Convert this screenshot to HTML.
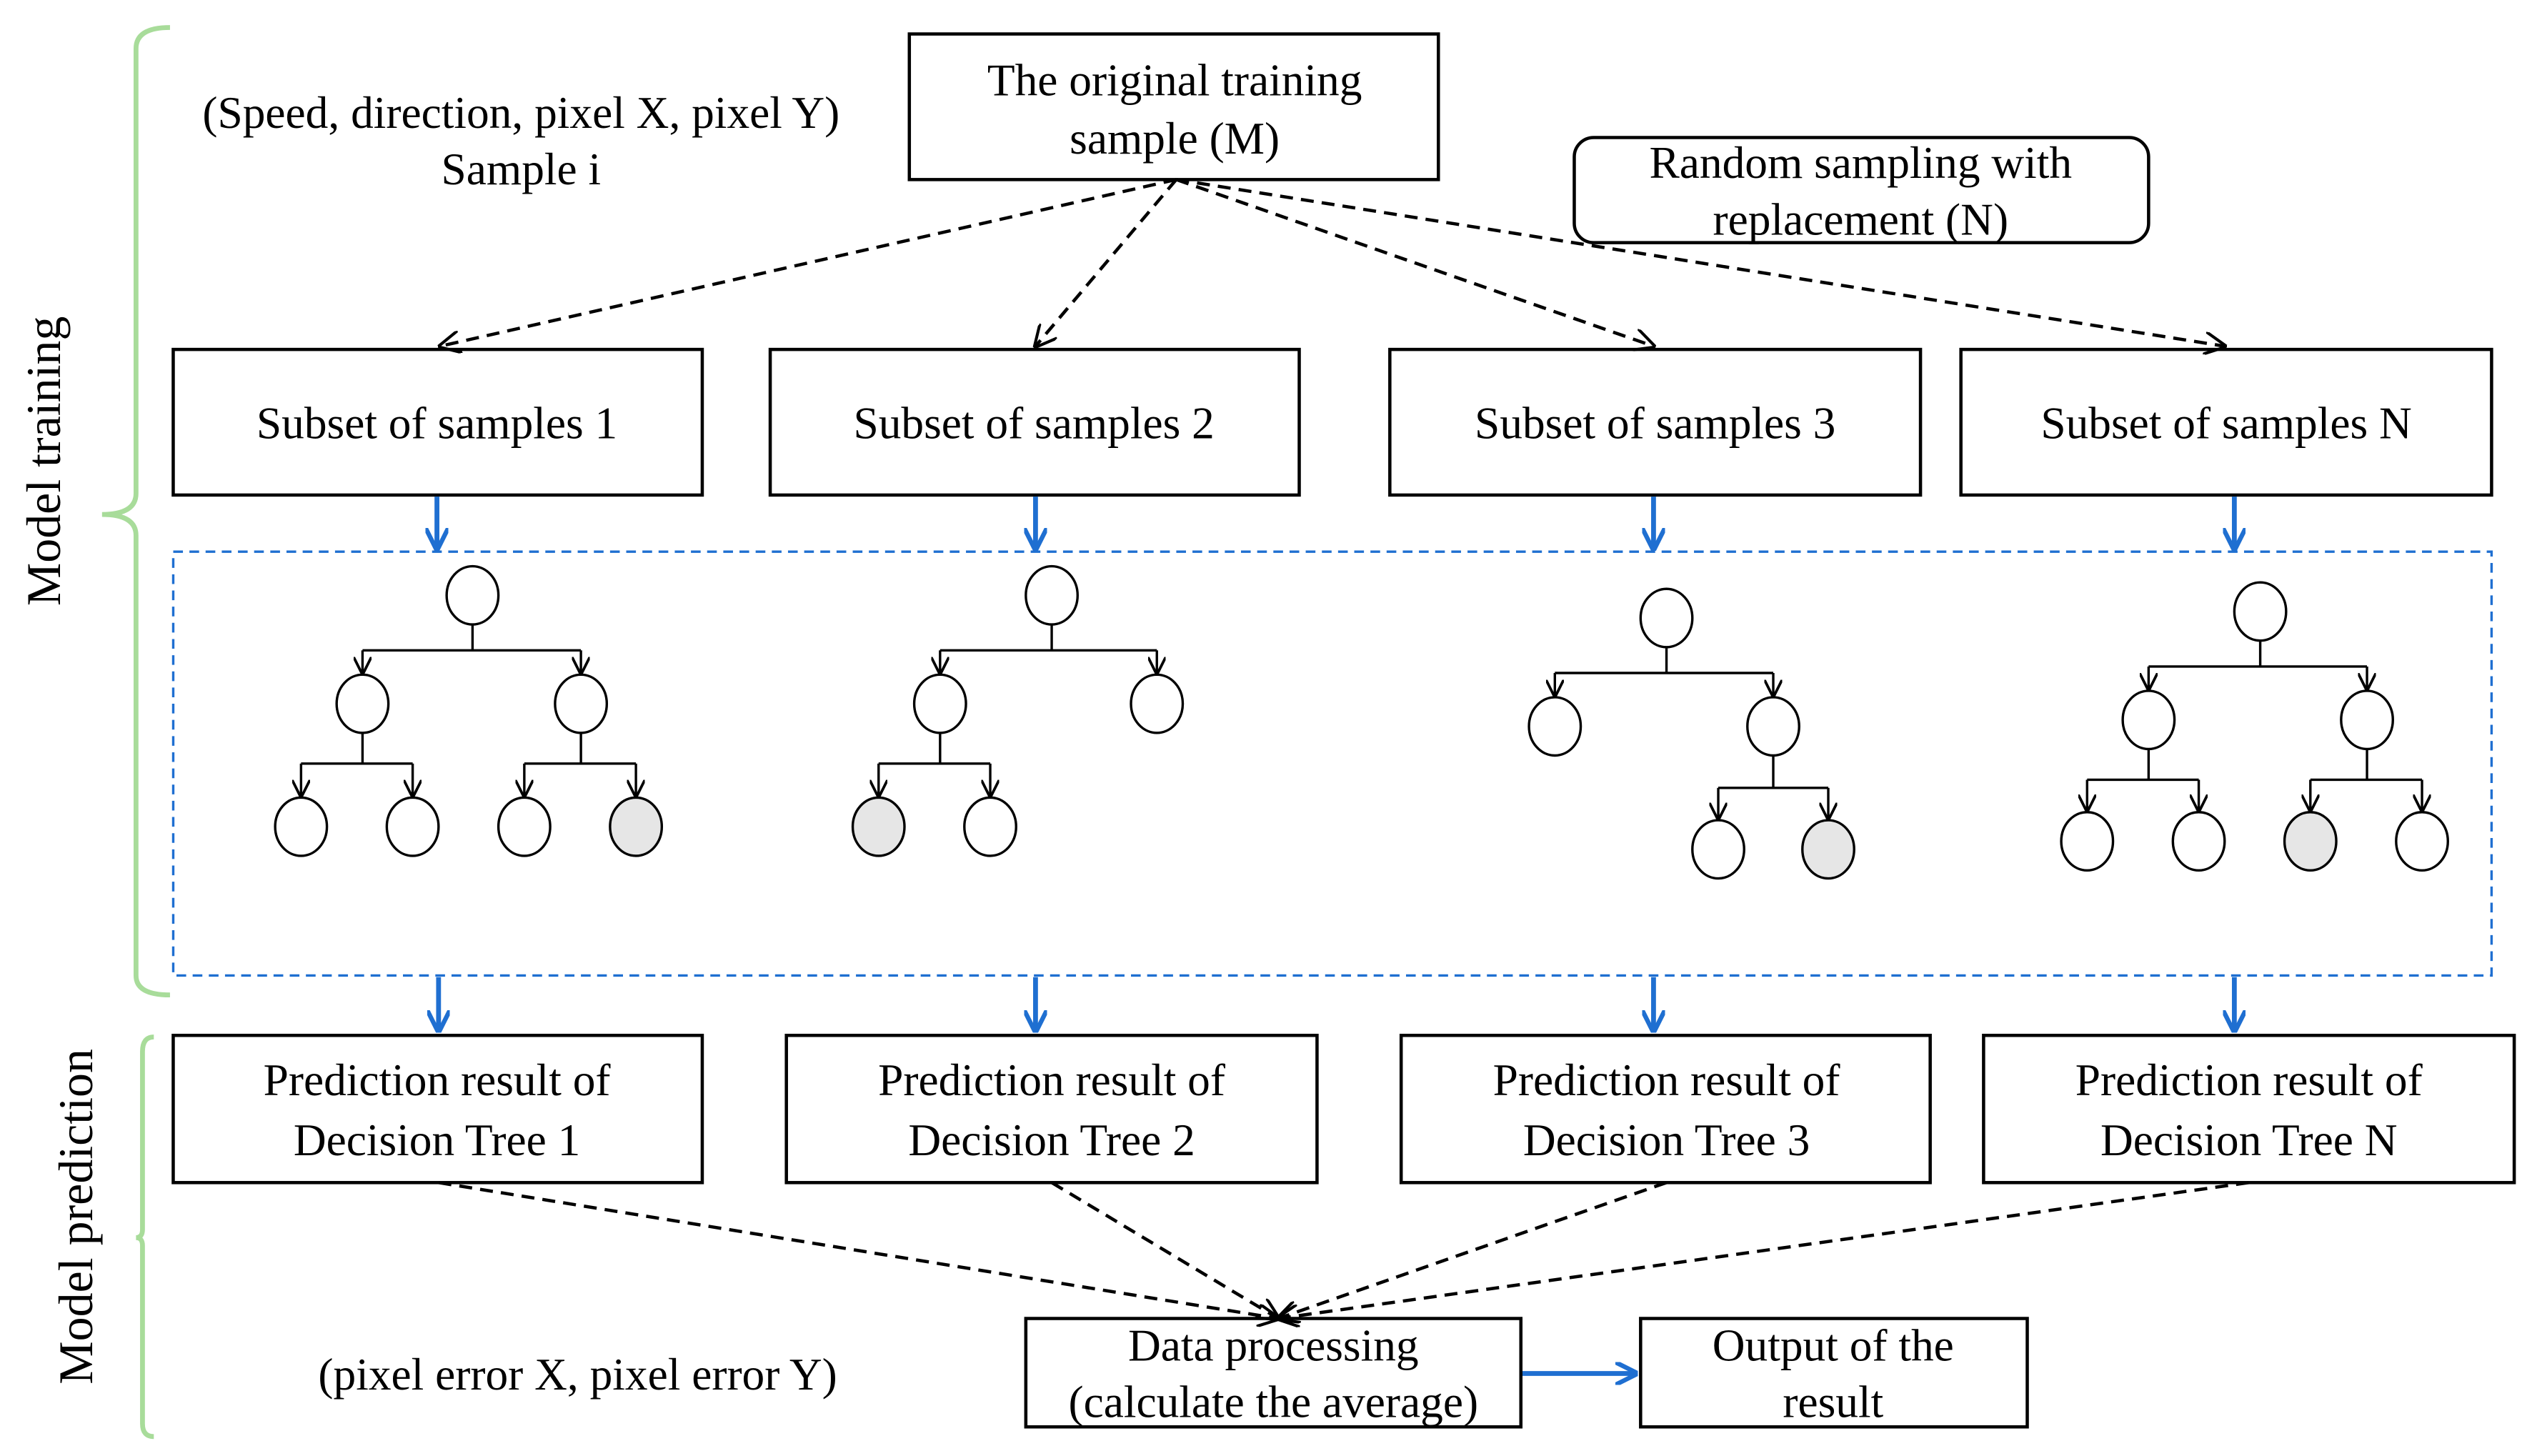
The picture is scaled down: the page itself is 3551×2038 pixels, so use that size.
<!DOCTYPE html>
<html><head><meta charset="utf-8"><style>
html,body{margin:0;padding:0;background:#fff;}
svg{display:block;}
svg text{font-family:"Liberation Serif","Times New Roman",serif !important;font-size:28px;fill:#000;}
</style></head><body>
<svg width="3551" height="2038" viewBox="0 0 1568 900" xmlns="http://www.w3.org/2000/svg" font-family="Liberation Serif, serif">
<defs>
<marker id="ah" viewBox="0 0 10 10" refX="9" refY="5" markerWidth="11" markerHeight="11" markerUnits="userSpaceOnUse" orient="auto"><path d="M0,0 L10,5 L0,10" fill="none" stroke="#000" stroke-width="1.5"/></marker>
<marker id="ah2" viewBox="0 0 10 10" refX="9" refY="5" markerWidth="14" markerHeight="14" markerUnits="userSpaceOnUse" orient="auto"><path d="M0,0 L10,5 L0,10" fill="none" stroke="#000" stroke-width="1.3"/></marker>
<marker id="bh" viewBox="0 0 10 10" refX="9" refY="5" markerWidth="14" markerHeight="14" markerUnits="userSpaceOnUse" orient="auto"><path d="M0,0 L10,5 L0,10" fill="none" stroke="#1f6fd1" stroke-width="2"/></marker>
</defs>
<rect width="1568" height="900" fill="#fff"/>
<path d="M105,17 Q84,17 84,30 L84,305 Q84,318 63,318 Q84,318 84,331 L84,603 Q84,615 105,615" fill="none" stroke="#a8dc9a" stroke-width="3"/>
<path d="M95,641 Q88,641 88,650 L88,760 Q88,765 84,765 Q88,765 88,770 L88,880 Q88,888 95,888" fill="none" stroke="#a8dc9a" stroke-width="3"/>
<text transform="translate(37,285) rotate(-90)" text-anchor="middle" style="font-size:30px">Model training</text>
<text transform="translate(57,752) rotate(-90)" text-anchor="middle" style="font-size:30px">Model prediction</text>
<text x="322" y="79" text-anchor="middle">(Speed, direction, pixel X, pixel Y)</text>
<text x="322" y="114" text-anchor="middle">Sample i</text>
<g fill="#fff" stroke="#000" stroke-width="2">
<rect x="562" y="21" width="327" height="90"/>
<rect x="973" y="85" width="355" height="65" rx="12"/>
<rect x="107" y="216" width="327" height="90"/>
<rect x="476" y="216" width="327" height="90"/>
<rect x="859" y="216" width="328" height="90"/>
<rect x="1212" y="216" width="328" height="90"/>
<rect x="107" y="640" width="327" height="91"/>
<rect x="486" y="640" width="328" height="91"/>
<rect x="866" y="640" width="327" height="91"/>
<rect x="1226" y="640" width="328" height="91"/>
<rect x="634" y="815" width="306" height="67"/>
<rect x="1014" y="815" width="239" height="67"/>
</g>
<text x="726" y="59" text-anchor="middle">The original training</text>
<text x="726" y="95" text-anchor="middle">sample (M)</text>
<text x="1150" y="110" text-anchor="middle">Random sampling with</text>
<text x="1150" y="145" text-anchor="middle">replacement (N)</text>
<text x="270" y="271" text-anchor="middle">Subset of samples 1</text>
<text x="639" y="271" text-anchor="middle">Subset of samples 2</text>
<text x="1023" y="271" text-anchor="middle">Subset of samples 3</text>
<text x="1376" y="271" text-anchor="middle">Subset of samples N</text>
<g text-anchor="middle">
<text x="270" y="677">Prediction result of</text><text x="270" y="714">Decision Tree 1</text>
<text x="650" y="677">Prediction result of</text><text x="650" y="714">Decision Tree 2</text>
<text x="1030" y="677">Prediction result of</text><text x="1030" y="714">Decision Tree 3</text>
<text x="1390" y="677">Prediction result of</text><text x="1390" y="714">Decision Tree N</text>
<text x="787" y="841">Data processing</text><text x="787" y="876">(calculate the average)</text>
<text x="1133" y="841">Output of the</text><text x="1133" y="876">result</text>
<text x="357" y="859">(pixel error X, pixel error Y)</text>
</g>
<g stroke="#000" stroke-width="2" stroke-dasharray="8,5" fill="none" marker-end="url(#ah2)">
<line x1="727" y1="111" x2="272" y2="214"/>
<line x1="727" y1="111" x2="640" y2="214"/>
<line x1="727" y1="111" x2="1022" y2="214"/>
<line x1="727" y1="111" x2="1375" y2="214"/>
<line x1="271" y1="731" x2="790" y2="815"/>
<line x1="650" y1="731" x2="790" y2="815"/>
<line x1="1030" y1="731" x2="790" y2="815"/>
<line x1="1390" y1="731" x2="790" y2="815"/>
</g>
<rect x="107" y="341" width="1433" height="262" fill="none" stroke="#1f6fd1" stroke-width="1.5" stroke-dasharray="6,4"/>
<g stroke="#1f6fd1" stroke-width="3" fill="none" marker-end="url(#bh)">
<line x1="270" y1="307" x2="270" y2="339"/>
<line x1="640" y1="307" x2="640" y2="339"/>
<line x1="1022" y1="307" x2="1022" y2="339"/>
<line x1="1381" y1="307" x2="1381" y2="339"/>
<line x1="271" y1="604" x2="271" y2="637"/>
<line x1="640" y1="604" x2="640" y2="637"/>
<line x1="1022" y1="604" x2="1022" y2="637"/>
<line x1="1381" y1="604" x2="1381" y2="637"/>
<line x1="941" y1="849" x2="1011" y2="849"/>
</g>
<g stroke="#000" stroke-width="1.5" fill="none">
<path d="M292,386 V402 M224,402 H359 M224,453 V472 M186,472 H255 M359,453 V472 M324,472 H393"/>
<path d="M650,386 V402 M581,402 H715 M581,453 V472 M543,472 H612"/>
<path d="M1030,400 V416 M961,416 H1096 M1096,467 V487 M1062,487 H1130"/>
<path d="M1397,396 V412 M1328,412 H1463 M1328,463 V482 M1290,482 H1359 M1463,463 V482 M1428,482 H1497"/>
</g>
<g stroke="#000" stroke-width="1.5" fill="none" marker-end="url(#ah)">
<line x1="224" y1="402" x2="224" y2="416"/><line x1="359" y1="402" x2="359" y2="416"/>
<line x1="186" y1="472" x2="186" y2="492"/><line x1="255" y1="472" x2="255" y2="492"/><line x1="324" y1="472" x2="324" y2="492"/><line x1="393" y1="472" x2="393" y2="492"/>
<line x1="581" y1="402" x2="581" y2="416"/><line x1="715" y1="402" x2="715" y2="416"/>
<line x1="543" y1="472" x2="543" y2="492"/><line x1="612" y1="472" x2="612" y2="492"/>
<line x1="961" y1="416" x2="961" y2="430"/><line x1="1096" y1="416" x2="1096" y2="430"/>
<line x1="1062" y1="487" x2="1062" y2="506"/><line x1="1130" y1="487" x2="1130" y2="506"/>
<line x1="1328" y1="412" x2="1328" y2="426"/><line x1="1463" y1="412" x2="1463" y2="426"/>
<line x1="1290" y1="482" x2="1290" y2="501"/><line x1="1359" y1="482" x2="1359" y2="501"/><line x1="1428" y1="482" x2="1428" y2="501"/><line x1="1497" y1="482" x2="1497" y2="501"/>
</g>
<g stroke="#000" stroke-width="1.5" fill="#fff">
<ellipse cx="292" cy="368" rx="16" ry="18"/><ellipse cx="224" cy="435" rx="16" ry="18"/><ellipse cx="359" cy="435" rx="16" ry="18"/>
<ellipse cx="186" cy="511" rx="16" ry="18"/><ellipse cx="255" cy="511" rx="16" ry="18"/><ellipse cx="324" cy="511" rx="16" ry="18"/><ellipse cx="393" cy="511" rx="16" ry="18" fill="#e6e6e6"/>
<ellipse cx="650" cy="368" rx="16" ry="18"/><ellipse cx="581" cy="435" rx="16" ry="18"/><ellipse cx="715" cy="435" rx="16" ry="18"/>
<ellipse cx="543" cy="511" rx="16" ry="18" fill="#e6e6e6"/><ellipse cx="612" cy="511" rx="16" ry="18"/>
<ellipse cx="1030" cy="382" rx="16" ry="18"/><ellipse cx="961" cy="449" rx="16" ry="18"/><ellipse cx="1096" cy="449" rx="16" ry="18"/>
<ellipse cx="1062" cy="525" rx="16" ry="18"/><ellipse cx="1130" cy="525" rx="16" ry="18" fill="#e6e6e6"/>
<ellipse cx="1397" cy="378" rx="16" ry="18"/><ellipse cx="1328" cy="445" rx="16" ry="18"/><ellipse cx="1463" cy="445" rx="16" ry="18"/>
<ellipse cx="1290" cy="520" rx="16" ry="18"/><ellipse cx="1359" cy="520" rx="16" ry="18"/><ellipse cx="1428" cy="520" rx="16" ry="18" fill="#e6e6e6"/><ellipse cx="1497" cy="520" rx="16" ry="18"/>
</g>
</svg>
</body></html>
